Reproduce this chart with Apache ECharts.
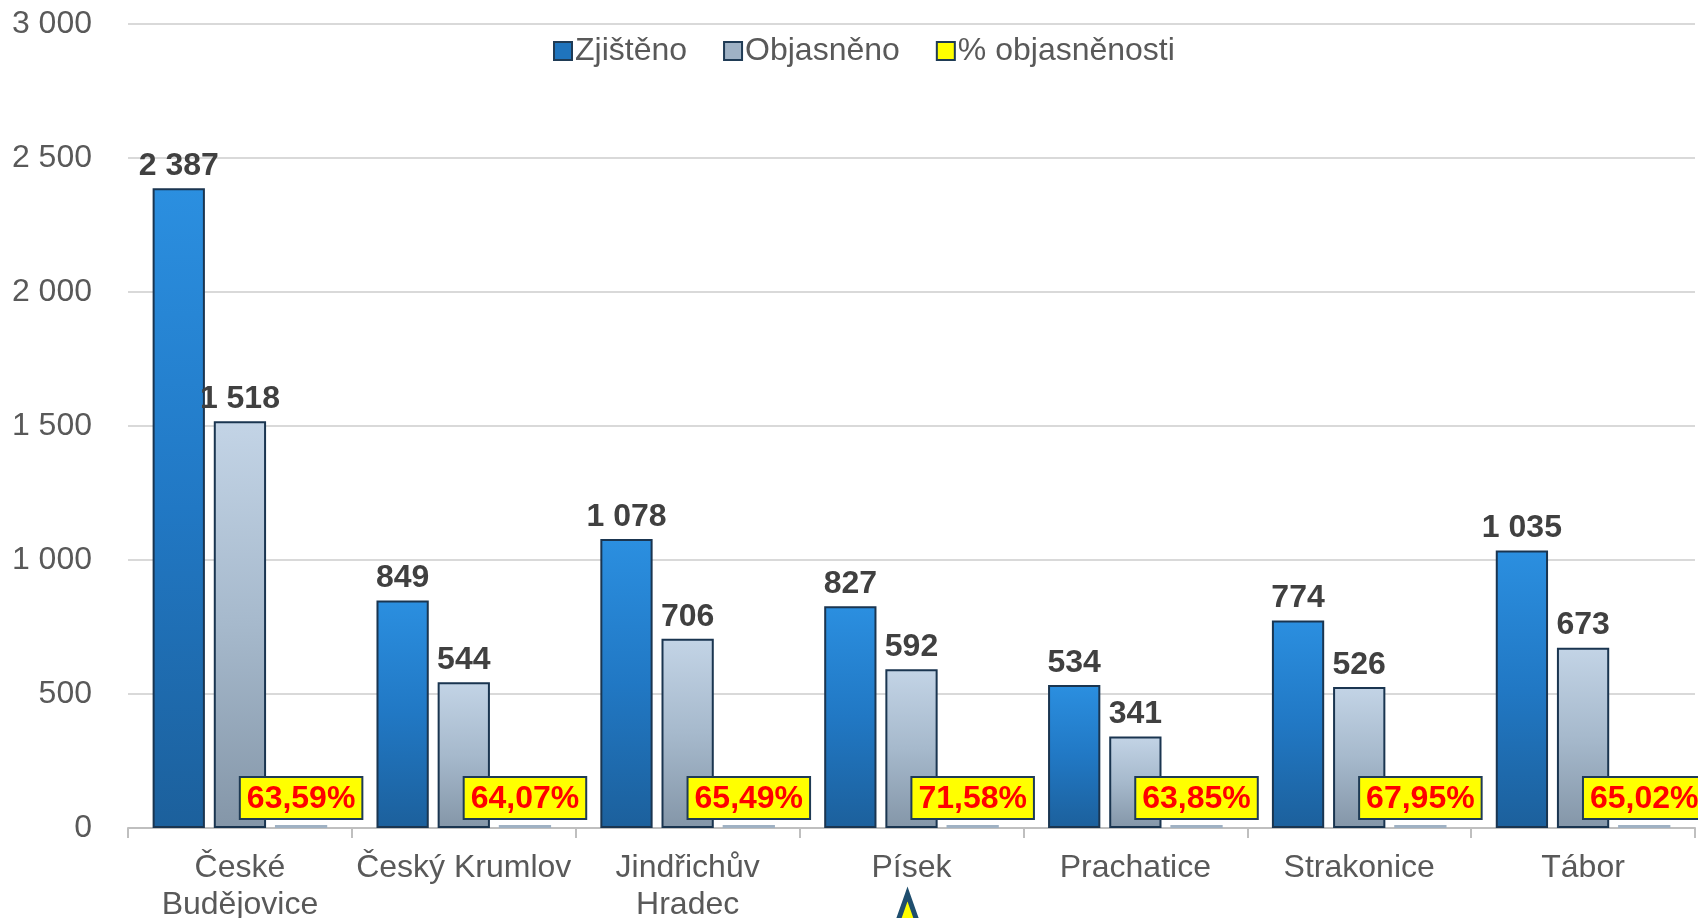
<!DOCTYPE html>
<html>
<head>
<meta charset="utf-8">
<script src="https://cdn.jsdelivr.net/npm/echarts@6/dist/echarts.min.js"></script>
<style>
html,body{margin:0;padding:0;background:#fff;}
#chart{width:1698px;height:918px;}
</style>
</head>
<body>
<div id="chart"></div>
<script>
const categories = ['České\nBudějovice', 'Český Krumlov', 'Jindřichův\nHradec', 'Písek', 'Prachatice', 'Strakonice', 'Tábor'];
const zjisteno = [2387, 849, 1078, 827, 534, 774, 1035];
const objasneno = [1518, 544, 706, 592, 341, 526, 673];
const objasnenost = [0.6359, 0.6407, 0.6549, 0.7158, 0.6385, 0.6795, 0.6502];
const seriesNames = ['Zjištěno', 'Objasněno', '% objasněnosti'];
const yTicks = { min: 0, max: 3000, interval: 500 };

const FONT = 'Liberation Sans, Arial, sans-serif';
const fmtThousands = v => String(v).replace(/\B(?=(\d{3})+(?!\d))/g, ' ');
const fmtPct = v => (v * 100).toFixed(2).replace('.', ',') + '%';

const chart = echarts.init(document.getElementById('chart'), null, { renderer: 'canvas' });

const valueLabel = {
  show: true, position: 'top', distance: 6,
  fontFamily: FONT, fontSize: 32, fontWeight: 'bold', color: '#404040',
  formatter: p => fmtThousands(p.value)
};

const option = {
  backgroundColor: '#ffffff',
  animation: false,
  textStyle: { fontFamily: FONT },
  grid: { left: 128, right: 3, top: 24, bottom: 90, containLabel: false, outerBoundsMode: 'none' },
  legend: {
    top: 30, left: 548,
    itemWidth: 18, itemHeight: 18, itemGap: 36,
    textStyle: { fontFamily: FONT, fontSize: 32, color: '#595959', padding: [0, 0, 0, -2] },
    data: [
      { name: seriesNames[0], icon: 'rect', itemStyle: { color: '#1f74bd', borderColor: '#1f3b55', borderWidth: 2 } },
      { name: seriesNames[1], icon: 'rect', itemStyle: { color: '#9fb2c5', borderColor: '#1f3b55', borderWidth: 2 } },
      { name: seriesNames[2], icon: 'rect', itemStyle: { color: '#ffff00', borderColor: '#1f3b55', borderWidth: 2 } }
    ]
  },
  xAxis: {
    type: 'category', data: categories,
    axisLine: { lineStyle: { color: '#bfbfbf', width: 2 } },
    axisTick: { show: true, length: 10, lineStyle: { color: '#bfbfbf', width: 2 } },
    axisLabel: { fontFamily: FONT, fontSize: 32, color: '#595959', margin: 22, lineHeight: 37, interval: 0 }
  },
  yAxis: {
    type: 'value', min: yTicks.min, max: yTicks.max, interval: yTicks.interval,
    axisLine: { show: false }, axisTick: { show: false },
    splitLine: { lineStyle: { color: '#d9d9d9', width: 2 } },
    axisLabel: { fontFamily: FONT, fontSize: 32, color: '#595959', margin: 36, formatter: v => fmtThousands(v) }
  },
  series: [
    {
      name: seriesNames[0], type: 'bar', data: zjisteno,
      barGap: '17%', barCategoryGap: '22%',
      itemStyle: {
        borderColor: '#1a3550', borderWidth: 2,
        color: new echarts.graphic.LinearGradient(0, 0, 0, 1, [
          { offset: 0, color: '#2b8fe0' }, { offset: 0.5, color: '#2178c4' }, { offset: 1, color: '#1c609c' }
        ])
      },
      label: valueLabel
    },
    {
      name: seriesNames[1], type: 'bar', data: objasneno,
      itemStyle: {
        borderColor: '#1a3550', borderWidth: 2,
        color: new echarts.graphic.LinearGradient(0, 0, 0, 1, [
          { offset: 0, color: '#c3d4e6' }, { offset: 0.5, color: '#a6b9cc' }, { offset: 1, color: '#8496a8' }
        ])
      },
      label: valueLabel
    },
    {
      name: seriesNames[2], type: 'bar', data: objasnenost,
      barMinHeight: 3,
      itemStyle: { color: '#9fb1c3' },
      label: {
        show: true, position: 'top', distance: 7,
        fontFamily: FONT, fontSize: 32, fontWeight: 'bold', color: '#ff0000',
        backgroundColor: '#ffff00', borderColor: '#1f3b55', borderWidth: 2,
        padding: [5, 6, 3, 6],
        formatter: p => fmtPct(p.value)
      }
    }
  ]
};
chart.setOption(option);

// decorative arrow pointing up at the Písek label
const px = chart.convertToPixel({ xAxisIndex: 0 }, 'Písek');
chart.setOption({
  graphic: [{
    type: 'polygon', z: 100,
    shape: { points: [[px - 4, 894], [px - 16, 928], [px + 8, 928]] },
    style: { fill: '#ffff00', stroke: '#1f4e6e', lineWidth: 5 }
  }]
});
</script>
</body>
</html>
